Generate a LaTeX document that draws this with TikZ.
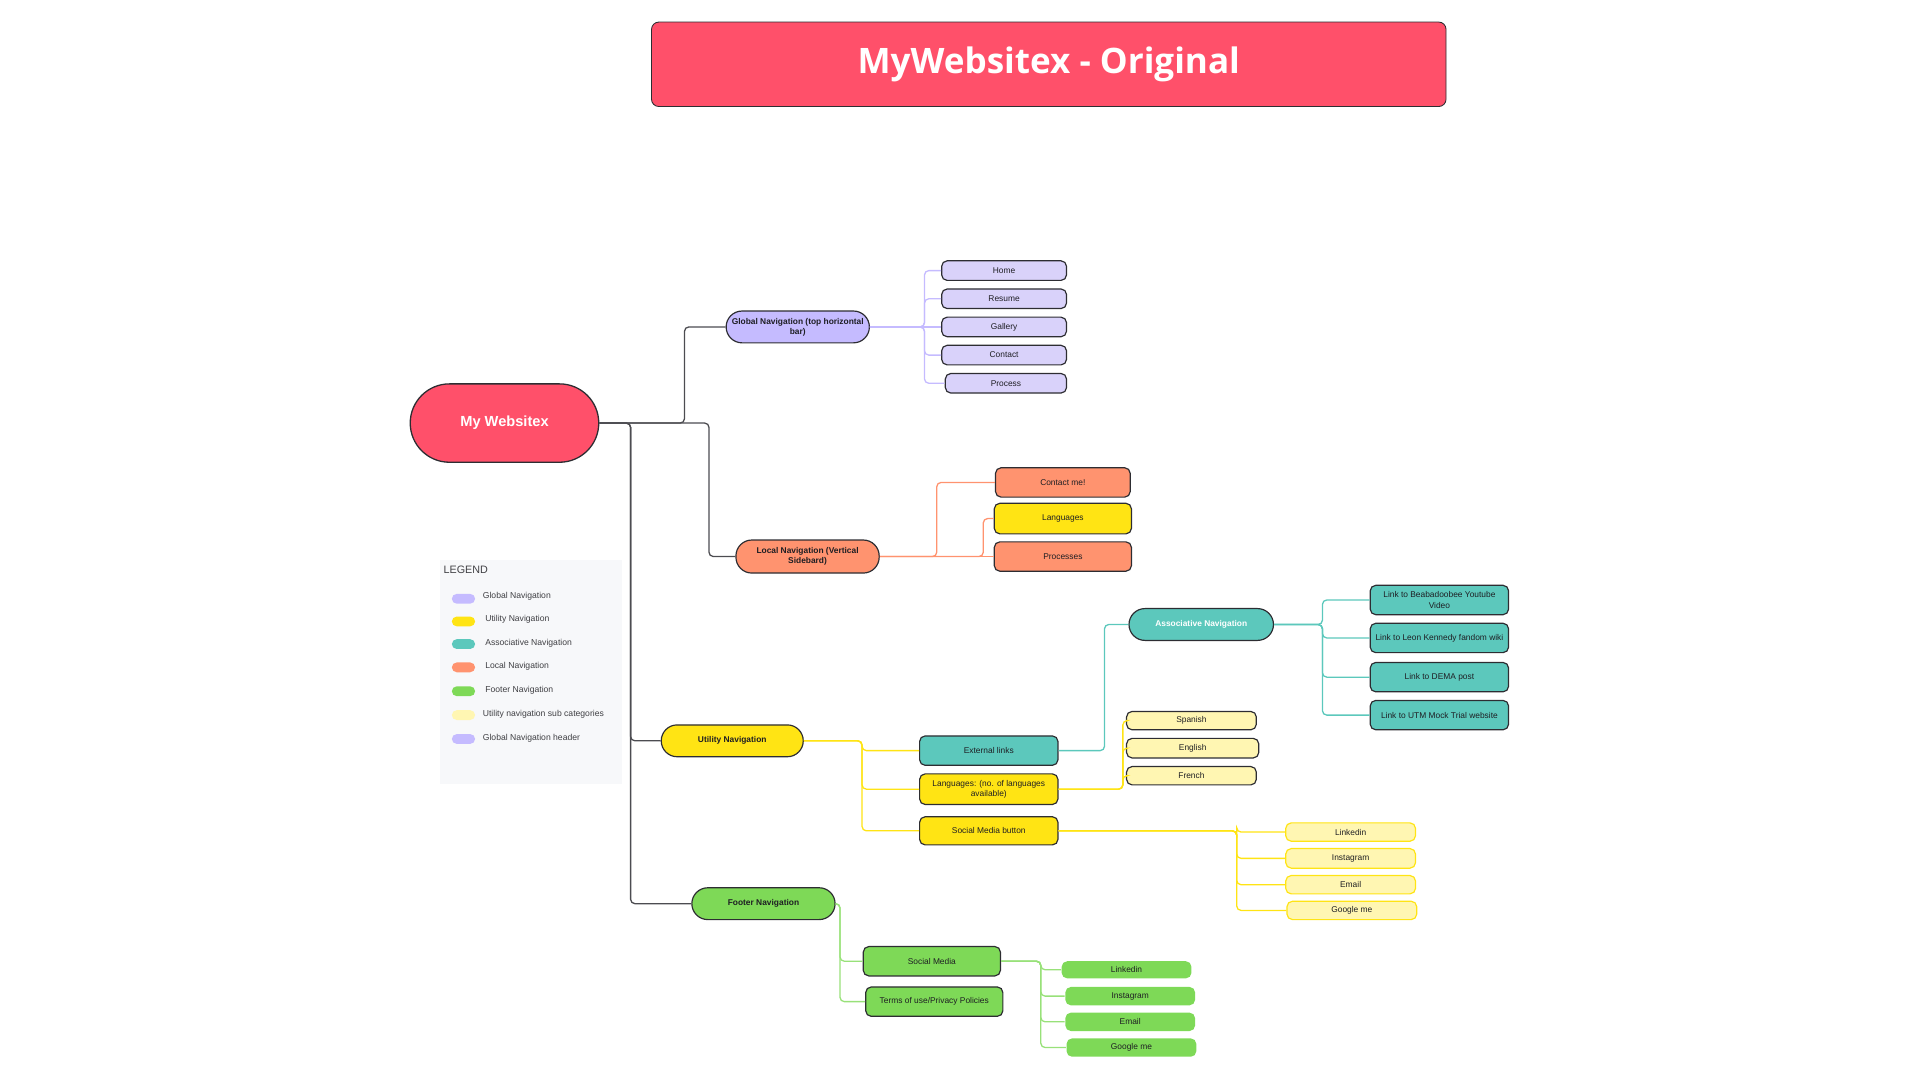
\documentclass[tikz,border=0pt]{standalone}
\usepackage{fontspec}
\setmainfont{Liberation Sans}
\newfontfamily\titlefont{Open Sans}
\definecolor{titlered}{RGB}{255, 80, 106}
\definecolor{nodeline}{RGB}{45, 45, 50}
\definecolor{txtdark}{RGB}{30, 30, 35}
\definecolor{globpurple}{RGB}{197, 187, 255}
\definecolor{globlight}{RGB}{217, 210, 250}
\definecolor{locsalmon}{RGB}{255, 147, 111}
\definecolor{utilyellow}{RGB}{255, 228, 20}
\definecolor{sublight}{RGB}{255, 246, 178}
\definecolor{assocteal}{RGB}{92, 200, 188}
\definecolor{footgreen}{RGB}{126, 217, 87}
\definecolor{legendbg}{RGB}{247, 248, 250}
\usetikzlibrary{positioning, calc}

\begin{document}
\begin{tikzpicture}[x=0.02cm, y=-0.02cm,
  mainnode/.style={draw=nodeline, line width=0.55pt, rounded corners=0.26cm, align=center, inner sep=1pt, text=txtdark, font=\fontsize{3.9}{4.7}\selectfont\bfseries},
  subnode/.style={draw=nodeline, line width=0.55pt, rounded corners=0.09cm, align=center, inner sep=1pt, text=txtdark, font=\fontsize{3.9}{4.7}\selectfont},
  rootlink/.style={draw=nodeline!85, line width=0.6pt, rounded corners=2pt},
  sublink/.style={line width=0.6pt, rounded corners=2pt},
  legendtxt/.style={anchor=west, inner sep=0pt, text=txtdark!85, font=\fontsize{4}{4.8}\selectfont},
  swatch/.style={rounded corners=0.08cm, minimum width=0.38cm, minimum height=0.16cm, inner sep=0pt}
]
  \useasboundingbox (0,0) rectangle (1568,882);

  % Title
  \node[draw=nodeline, fill=titlered, rounded corners=0.12cm, minimum width=12.98cm, minimum height=1.38cm, text=white, font=\fontsize{16.3}{19}\selectfont\titlefont\bfseries] (title) at (856.5,52.5) {MyWebsitex - Original};

  % Root
  \node[draw=nodeline, line width=0.6pt, fill=titlered, rounded corners=0.64cm, minimum width=3.08cm, minimum height=1.28cm, text=white, font=\fontsize{6.8}{8}\selectfont\bfseries] (root) at (412,345.5) {My Websitex};

  % Legend
  \fill[legendbg] (359,457) rectangle (508,640);
  \node[legendtxt, font=\fontsize{5}{6}\selectfont] (legtitle) at (362,465) {LEGEND};
  \node[swatch, fill=globpurple] (sw1) at (378.5,489) {};
  \node[legendtxt] (lg1) at (394,487) {Global Navigation};
  \node[swatch, fill=utilyellow] (sw2) at (378.5,507.5) {};
  \node[legendtxt] (lg2) at (396,506) {Utility Navigation};
  \node[swatch, fill=assocteal] (sw3) at (378.5,526) {};
  \node[legendtxt] (lg3) at (396,525) {Associative Navigation};
  \node[swatch, fill=locsalmon] (sw4) at (378.5,545) {};
  \node[legendtxt] (lg4) at (396,544.5) {Local Navigation};
  \node[swatch, fill=footgreen] (sw5) at (378.5,564.5) {};
  \node[legendtxt] (lg5) at (396,564) {Footer Navigation};
  \node[swatch, fill=sublight] (sw6) at (378.5,584) {};
  \node[legendtxt] (lg6) at (394,583.5) {Utility navigation sub categories};
  \node[swatch, fill=globpurple] (sw7) at (378.5,603.5) {};
  \node[legendtxt] (lg7) at (394,603) {Global Navigation header};

  % First level
  \node[mainnode, fill=globpurple, minimum width=2.34cm, minimum height=0.52cm] (glob) at (651.5,267) {Global Navigation (top horizontal\\bar)};
  \node[mainnode, fill=locsalmon, minimum width=2.34cm, minimum height=0.54cm] (loc) at (659.5,454.5) {Local Navigation (Vertical\\Sidebard)};
  \node[mainnode, fill=utilyellow, minimum width=2.32cm, minimum height=0.52cm] (util) at (598,605) {Utility Navigation};
  \node[mainnode, fill=footgreen, minimum width=2.34cm, minimum height=0.52cm] (foot) at (623.5,738) {Footer Navigation};

  % Global navigation
  \node[subnode, fill=globlight, minimum width=2.04cm, minimum height=0.32cm] (home) at (820,221) {Home};
  \node[subnode, fill=globlight, minimum width=2.04cm, minimum height=0.32cm] (resume) at (820,244) {Resume};
  \node[subnode, fill=globlight, minimum width=2.04cm, minimum height=0.32cm] (gallery) at (820,267) {Gallery};
  \node[subnode, fill=globlight, minimum width=2.04cm, minimum height=0.32cm] (contact) at (820,290) {Contact};
  \node[subnode, fill=globlight, minimum width=1.98cm, minimum height=0.32cm] (process) at (821.5,313) {Process};
  \coordinate (gj) at (755,267);
  \draw[sublink, globpurple] (glob.east) -- (gj) |- (home.west);
  \draw[sublink, globpurple] (glob.east) -- (gj) |- (resume.west);
  \draw[sublink, globpurple] (glob.east) -- (gallery.west);
  \draw[sublink, globpurple] (glob.east) -- (gj) |- (contact.west);
  \draw[sublink, globpurple] (glob.east) -- (gj) |- (process.west);

  % Local navigation
  \node[subnode, fill=locsalmon, minimum width=2.2cm, minimum height=0.48cm] (contactme) at (868,394) {Contact me!};
  \node[subnode, fill=utilyellow, minimum width=2.24cm, minimum height=0.5cm] (loclang) at (868,423.5) {Languages};
  \node[subnode, fill=locsalmon, minimum width=2.24cm, minimum height=0.48cm] (processes) at (868,454.5) {Processes};
  \draw[sublink, locsalmon] (loc.east) -- (765,454.5) |- (contactme.west);
  \draw[sublink, locsalmon] (loc.east) -- (803,454.5) |- (loclang.west);
  \draw[sublink, locsalmon] (loc.east) -- (processes.west);

  % Utility navigation
  \node[subnode, fill=assocteal, minimum width=2.26cm, minimum height=0.48cm] (extlinks) at (807.5,613) {External links};
  \node[subnode, fill=utilyellow, minimum width=2.26cm, minimum height=0.5cm] (utillang) at (807.5,644.5) {Languages: (no. of languages\\available)};
  \node[subnode, fill=utilyellow, minimum width=2.26cm, minimum height=0.46cm] (smbutton) at (807.5,678.5) {Social Media button};
  \coordinate (uj) at (704,605);
  \draw[sublink, utilyellow] (util.east) -- (uj) |- (extlinks.west);
  \draw[sublink, utilyellow] (util.east) -- (uj) |- (utillang.west);
  \draw[sublink, utilyellow] (util.east) -- (uj) |- (smbutton.west);

  % Languages
  \node[subnode, fill=sublight, minimum width=2.12cm, minimum height=0.3cm] (spanish) at (973,588.5) {Spanish};
  \node[subnode, fill=sublight, minimum width=2.16cm, minimum height=0.32cm] (english) at (974,611) {English};
  \node[subnode, fill=sublight, minimum width=2.12cm, minimum height=0.3cm] (french) at (973,633.5) {French};
  \coordinate (lj) at (917,644.5);
  \draw[sublink, utilyellow] (utillang.east) -- (lj) |- (spanish.west);
  \draw[sublink, utilyellow] (utillang.east) -- (lj) |- (english.west);
  \draw[sublink, utilyellow] (utillang.east) -- (lj) |- (french.west);

  % Associative navigation
  \node[mainnode, fill=assocteal, text=white, minimum width=2.36cm, minimum height=0.52cm] (assoc) at (981,510) {Associative Navigation};
  \draw[sublink, assocteal] (extlinks.east) -- (902,613) |- (assoc.west);
  \node[subnode, fill=assocteal, minimum width=2.26cm, minimum height=0.48cm] (beabadoobee) at (1175.5,490) {Link to Beabadoobee Youtube\\Video};
  \node[subnode, fill=assocteal, minimum width=2.26cm, minimum height=0.48cm] (leon) at (1175.5,521) {Link to Leon Kennedy fandom wiki};
  \node[subnode, fill=assocteal, minimum width=2.26cm, minimum height=0.48cm] (dema) at (1175.5,553) {Link to DEMA post};
  \node[subnode, fill=assocteal, minimum width=2.26cm, minimum height=0.48cm] (utm) at (1175.5,584) {Link to UTM Mock Trial website};
  \coordinate (aj) at (1080,510);
  \draw[sublink, assocteal] (assoc.east) -- (aj) |- (beabadoobee.west);
  \draw[sublink, assocteal] (assoc.east) -- (aj) |- (leon.west);
  \draw[sublink, assocteal] (assoc.east) -- (aj) |- (dema.west);
  \draw[sublink, assocteal] (assoc.east) -- (aj) |- (utm.west);

  % Social media button
  \node[subnode, draw=utilyellow, fill=sublight, minimum width=2.12cm, minimum height=0.3cm] (slinkedin) at (1103,679.5) {Linkedin};
  \node[subnode, draw=utilyellow, fill=sublight, minimum width=2.12cm, minimum height=0.32cm] (sinstagram) at (1103,701) {Instagram};
  \node[subnode, draw=utilyellow, fill=sublight, minimum width=2.12cm, minimum height=0.3cm] (semail) at (1103,722.5) {Email};
  \node[subnode, draw=utilyellow, fill=sublight, minimum width=2.12cm, minimum height=0.3cm] (sgoogle) at (1104,743.5) {Google me};
  \coordinate (sj) at (1010,678.5);
  \draw[sublink, utilyellow] (smbutton.east) -- (sj) |- (slinkedin.west);
  \draw[sublink, utilyellow] (smbutton.east) -- (sj) |- (sinstagram.west);
  \draw[sublink, utilyellow] (smbutton.east) -- (sj) |- (semail.west);
  \draw[sublink, utilyellow] (smbutton.east) -- (sj) |- (sgoogle.west);

  % Footer navigation
  \node[subnode, fill=footgreen, minimum width=2.24cm, minimum height=0.48cm] (fsocial) at (761,785) {Social Media};
  \node[subnode, fill=footgreen, minimum width=2.24cm, minimum height=0.48cm] (terms) at (763,818) {Terms of use/Privacy Policies};
  \coordinate (fj) at (686,738);
  \draw[sublink, footgreen!80] (foot.east) -- (fj) |- (fsocial.west);
  \draw[sublink, footgreen!80] (foot.east) -- (fj) |- (terms.west);
  \node[subnode, draw=none, fill=footgreen, minimum width=2.12cm, minimum height=0.28cm] (flinkedin) at (920,792) {Linkedin};
  \node[subnode, draw=none, fill=footgreen, minimum width=2.12cm, minimum height=0.3cm] (finstagram) at (923,813.5) {Instagram};
  \node[subnode, draw=none, fill=footgreen, minimum width=2.12cm, minimum height=0.3cm] (femail) at (923,834.5) {Email};
  \node[subnode, draw=none, fill=footgreen, minimum width=2.12cm, minimum height=0.3cm] (fgoogle) at (924,855.5) {Google me};
  \coordinate (fsj) at (850,785);
  \draw[sublink, footgreen!80] (fsocial.east) -- (fsj) |- (flinkedin.west);
  \draw[sublink, footgreen!80] (fsocial.east) -- (fsj) |- (finstagram.west);
  \draw[sublink, footgreen!80] (fsocial.east) -- (fsj) |- (femail.west);
  \draw[sublink, footgreen!80] (fsocial.east) -- (fsj) |- (fgoogle.west);

  % Root branches
  \coordinate (trunk) at (515,345.5);
  \draw[rootlink] (root.east) -- (559,345.5) |- (glob.west);
  \draw[rootlink] (root.east) -- (579,345.5) |- (loc.west);
  \draw[rootlink] (root.east) -- (trunk) |- (util.west);
  \draw[rootlink] (root.east) -- (trunk) |- (foot.west);
\end{tikzpicture}
\end{document}
